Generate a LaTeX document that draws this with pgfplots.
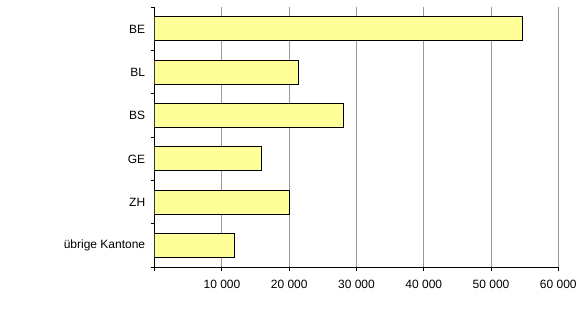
\documentclass[border=0pt]{standalone}
\usepackage{fontspec}
\setmainfont{Liberation Sans}
\usepackage{pgfplots}
\pgfplotsset{compat=1.18}
\definecolor{baryellow}{HTML}{FFFF99}
\definecolor{gridgray}{HTML}{999999}
\begin{document}
\begin{tikzpicture}[x=1pt,y=1pt]
\path (0,0) rectangle (585,318);
\begin{axis}[
  at={(154.7pt,50.7pt)}, anchor=south west,
  scale only axis, width=403.6pt, height=260pt,
  xmin=0, xmax=60000, scaled x ticks=false,
  ymin=-0.5, ymax=5.5, y dir=reverse,
  axis lines*=left,
  axis line style={black, line width=1pt},
  xbar, bar width=0.554,
  xtick={0,10000,20000,30000,40000,50000,60000},
  xticklabels={,10 000,20 000,30 000,40 000,50 000,60 000},
  ytick={0,1,2,3,4,5},
  yticklabels={BE,BL,BS,GE,ZH,übrige Kantone},
  minor ytick={-0.5,0.5,1.5,2.5,3.5,4.5,5.5},
  tick align=outside,
  major tick length=4pt, minor tick length=4pt,
  ytick style={draw=none},
  minor y tick style={draw=black, line width=1pt},
  x tick style={draw=black, line width=1pt},
  xmajorgrids, major x grid style={gridgray, line width=1pt},
  tick label style={font=\fontsize{12}{14}\selectfont},
  xticklabel style={yshift=-5pt},
  yticklabel style={xshift=-2pt},
]
\addplot[fill=baryellow, draw=black, line width=1pt] coordinates {
 (54650,0) (21350,1) (28040,2) (15850,3) (20010,4) (11890,5)};
\end{axis}
\end{tikzpicture}
\end{document}
